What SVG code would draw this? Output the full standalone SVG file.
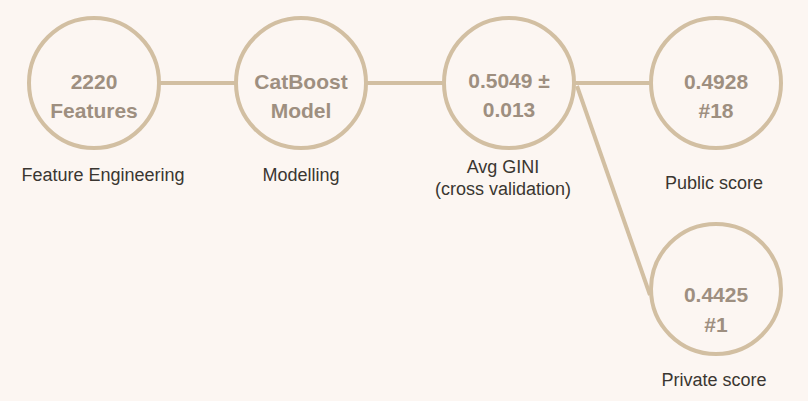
<svg xmlns="http://www.w3.org/2000/svg" width="808" height="401" viewBox="0 0 808 401">
<style>
.bg{fill:#fcf6f2}
.c{fill:none;stroke:#d2bfa2;stroke-width:4}
.l{stroke:#d2bfa2;stroke-width:4;fill:none}
.t{font-family:"Liberation Sans",Arial,sans-serif;font-weight:bold;font-size:21px;fill:#9e8f80;text-anchor:middle}
.s{font-family:"Liberation Sans",Arial,sans-serif;font-size:18px;fill:#3a3631;text-anchor:middle}
</style>
<rect class="bg" x="0" y="0" width="808" height="401"/>
<g id="connectors">
<line class="l" x1="160" y1="83" x2="235" y2="83"/>
<line class="l" x1="367" y1="83" x2="443" y2="83"/>
<line class="l" x1="575" y1="83" x2="650" y2="83"/>
<line class="l" x1="577" y1="86" x2="650" y2="295"/>
</g>
<g id="features">
<circle class="c" cx="94" cy="83" r="65"/>
<text class="t" x="94" y="89">2220</text>
<text class="t" x="94" y="118">Features</text>
<text class="s" x="103" y="181">Feature Engineering</text>
</g>
<g id="model">
<circle class="c" cx="301" cy="83" r="65"/>
<text class="t" x="301" y="89">CatBoost</text>
<text class="t" x="301" y="118">Model</text>
<text class="s" x="301" y="181">Modelling</text>
</g>
<g id="gini">
<circle class="c" cx="509" cy="83" r="65"/>
<text class="t" x="509" y="88">0.5049 ±</text>
<text class="t" x="509" y="117">0.013</text>
<text class="s" x="503" y="173">Avg GINI</text>
<text class="s" x="503" y="195">(cross validation)</text>
</g>
<g id="public">
<circle class="c" cx="716" cy="83" r="65"/>
<text class="t" x="716" y="89">0.4928</text>
<text class="t" x="716" y="118">#18</text>
<text class="s" x="714" y="189">Public score</text>
</g>
<g id="private">
<circle class="c" cx="716" cy="289" r="65"/>
<text class="t" x="716" y="302">0.4425</text>
<text class="t" x="716" y="332">#1</text>
<text class="s" x="714" y="386">Private score</text>
</g>
</svg>
